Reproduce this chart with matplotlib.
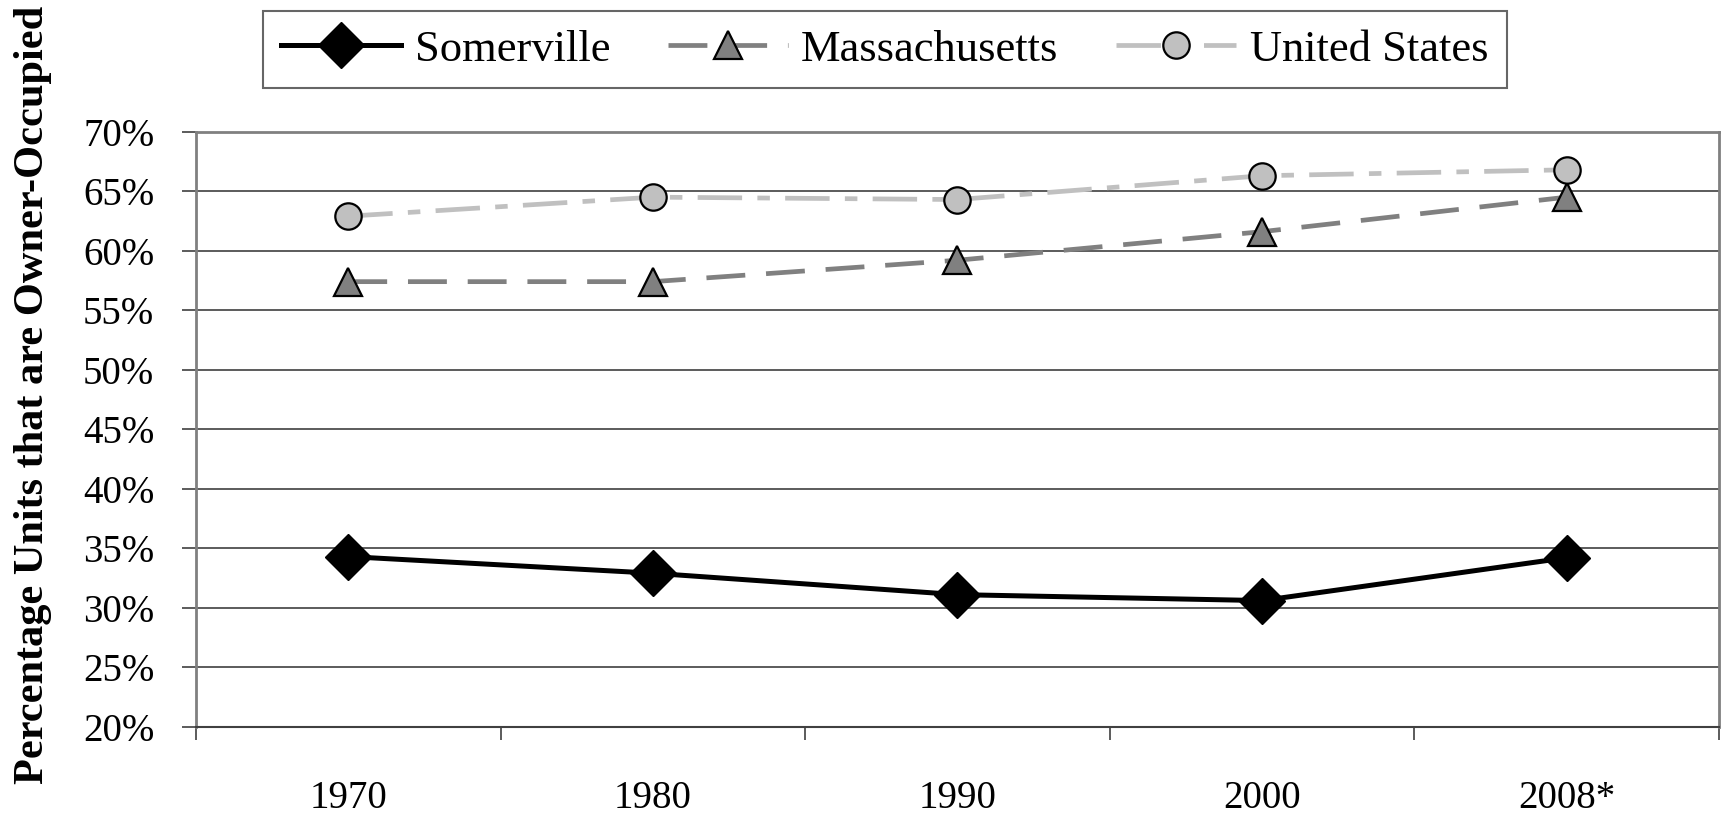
import matplotlib
matplotlib.use('Agg')
import matplotlib.pyplot as plt
from matplotlib.ticker import FixedLocator, FuncFormatter

plt.rcParams['font.family'] = ['Liberation Serif', 'DejaVu Serif']
plt.rcParams['lines.scale_dashes'] = False

years = ['1970', '1980', '1990', '2000', '2008*']
somerville = [34.3, 32.9, 31.1, 30.6, 34.2]
massachusetts = [57.4, 57.4, 59.2, 61.6, 64.5]
united_states = [62.9, 64.5, 64.3, 66.3, 66.8]
y_ticks = [20, 25, 30, 35, 40, 45, 50, 55, 60, 65, 70]


def main():
    fig = plt.figure(figsize=(17.28, 8.16), dpi=100)
    ax = fig.add_axes([0.1134, 0.1094, 0.9948 - 0.1134, 0.8386 - 0.1094])

    x = list(range(len(years)))

    for y in y_ticks[1:-1]:
        ax.axhline(y, color='#404040', lw=1.2, zorder=1)

    ax.plot(x, somerville, color='black', lw=3.6, marker='D', markersize=23,
            markerfacecolor='black', markeredgecolor='black',
            label='Somerville', zorder=4)
    ax.plot(x, massachusetts, color='#808080', lw=3.4, dashes=(28, 15),
            marker='^', markersize=20, markerfacecolor='#808080',
            markeredgecolor='black', markeredgewidth=1.6,
            label='Massachusetts', zorder=3)
    ax.plot(x, united_states, color='#c0c0c0', lw=3.4,
            dashes=(32, 11, 9, 11), marker='o', markersize=19,
            markerfacecolor='#c0c0c0', markeredgecolor='black',
            markeredgewidth=1.6, label='United States', zorder=3)

    ax.set_xlim(-0.5, len(years) - 0.5)
    ax.set_ylim(20, 70)

    ax.set_yticks(y_ticks)
    ax.yaxis.set_major_formatter(FuncFormatter(lambda v, p: f'{v:.0f}%'))
    ax.tick_params(axis='y', direction='out', length=10, width=1.2,
                   color='#404040', pad=20, labelsize=28)

    ax.set_xticks(x)
    ax.set_xticklabels(years)
    ax.tick_params(axis='x', which='major', length=0, pad=38, labelsize=28)
    ax.xaxis.set_minor_locator(FixedLocator([i - 0.5 for i in range(len(years) + 1)]))
    ax.tick_params(axis='x', which='minor', direction='out', length=9,
                   width=1.2, color='#404040')

    for side in ['left', 'top', 'right']:
        ax.spines[side].set_color('#808080')
        ax.spines[side].set_linewidth(2)
    ax.spines['bottom'].set_color('#404040')
    ax.spines['bottom'].set_linewidth(1.5)

    fig.text(0.019, 1 - 395 / 816, 'Percentage Units that are Owner-Occupied',
             rotation=90, ha='center', va='center', fontsize=30.5,
             fontweight='bold')

    leg = fig.legend(loc='center', bbox_to_anchor=(0.512, 0.939), ncol=3,
                     fontsize=32, frameon=True, fancybox=False,
                     handlelength=2.7, columnspacing=1.3, handletextpad=0.3,
                     borderpad=0.42, edgecolor='#404040')
    leg.get_frame().set_linewidth(1.5)

    fig.savefig('out.png', dpi=100)
    plt.close()


if __name__ == '__main__':
    main()
